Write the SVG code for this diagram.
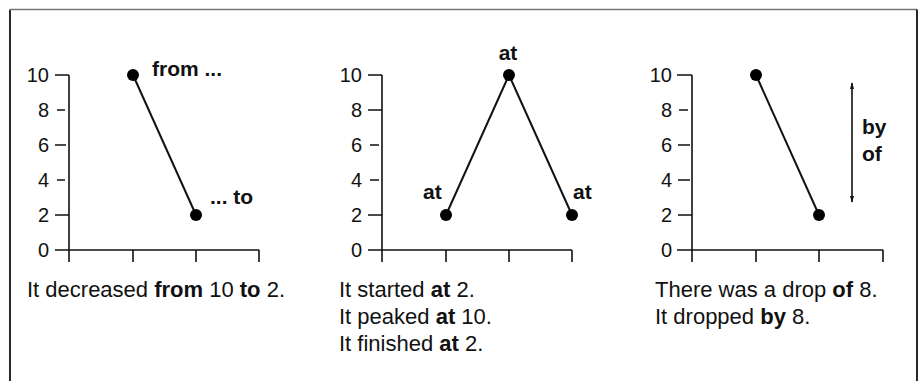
<svg xmlns="http://www.w3.org/2000/svg" width="919" height="381" viewBox="0 0 919 381">
<style>
text{font-family:"Liberation Sans",Arial,sans-serif;fill:#111}
.num{font-size:20px;text-anchor:end}
.lbl{font-size:21px;font-weight:bold}
.cap{font-size:22px}
.b{font-weight:bold}
.axis{stroke:#111;stroke-width:1.6;fill:none}
.tick{stroke:#111;stroke-width:1.3;fill:none}
.data{stroke:#111;stroke-width:2;fill:none}
.dot{fill:#000}
</style>
<defs>
<marker id="ah" viewBox="0 0 10 10" refX="9" refY="5" markerWidth="7" markerHeight="7" orient="auto-start-reverse" markerUnits="userSpaceOnUse">
<path d="M0,2 L10,5 L0,8 Z" fill="#111"/>
</marker>
</defs>
<rect width="919" height="381" fill="#fff"/>
<g id="frame">
<path d="M10,381 V9.5" stroke="#111" stroke-width="1.8" fill="none"/>
<path d="M10,9.5 H917" stroke="#777" stroke-width="1.5" fill="none"/>
<path d="M917,9.5 V381" stroke="#111" stroke-width="1.8" fill="none"/>
</g>

<g id="chart1" transform="translate(69,250)">
<g id="chart1-axes">
<path class="axis" d="M0,-175 V12 M-14,0 H190 M64,0 V12 M127,0 V12 M190,0 V12"/>
<path class="tick" d="M-14,-175 H0 M-12,-140 H-4 M-14,-105 H-3 M-12,-70 H-4 M-14,-35 H0"/>
<text class="num" x="-20" y="-168">10</text>
<text class="num" x="-20" y="-133">8</text>
<text class="num" x="-20" y="-98">6</text>
<text class="num" x="-20" y="-63">4</text>
<text class="num" x="-20" y="-28">2</text>
<text class="num" x="-20" y="7">0</text>
</g>
</g>
<g id="chart1-data">
<line class="data" x1="133" y1="75" x2="196" y2="215"/>
<circle class="dot" cx="133" cy="75" r="6"/>
<circle class="dot" cx="196" cy="215" r="6"/>
<text class="lbl" x="152" y="76">from ...</text>
<text class="lbl" x="210" y="204">... to</text>
</g>
<text id="caption1" class="cap" x="27" y="297">It decreased <tspan class="b">from</tspan> 10 <tspan class="b">to</tspan> 2.</text>

<g id="chart2" transform="translate(382,250)">
<g id="chart2-axes">
<path class="axis" d="M0,-175 V12 M-14,0 H190 M64,0 V12 M127,0 V12 M190,0 V12"/>
<path class="tick" d="M-14,-175 H0 M-14,-140 H0 M-12,-105 H-3 M-12,-70 H-3 M-14,-35 H0"/>
<text class="num" x="-20" y="-168">10</text>
<text class="num" x="-20" y="-133">8</text>
<text class="num" x="-20" y="-98">6</text>
<text class="num" x="-20" y="-63">4</text>
<text class="num" x="-20" y="-28">2</text>
<text class="num" x="-20" y="7">0</text>
</g>
</g>
<g id="chart2-data">
<polyline class="data" points="446,215 509,75 572,215"/>
<circle class="dot" cx="446" cy="215" r="6"/>
<circle class="dot" cx="509" cy="75" r="6"/>
<circle class="dot" cx="572" cy="215" r="6"/>
<text class="lbl" x="508" y="60" text-anchor="middle">at</text>
<text class="lbl" x="423" y="199">at</text>
<text class="lbl" x="573" y="199">at</text>
</g>
<text id="caption2" class="cap" x="339" y="297">It started <tspan class="b">at</tspan> 2.<tspan x="339" y="324">It peaked <tspan class="b">at</tspan> 10.</tspan><tspan x="339" y="351">It finished <tspan class="b">at</tspan> 2.</tspan></text>

<g id="chart3" transform="translate(692,250)">
<g id="chart3-axes">
<path class="axis" d="M0,-175 V12 M-15,0 H191 M64,0 V12 M127,0 V12 M191,0 V12"/>
<path class="tick" d="M-15,-175 H0 M-13,-140 H-4 M-14,-105 H-2 M-14,-70 H-2 M-14,-35 H0"/>
<text class="num" x="-20" y="-168">10</text>
<text class="num" x="-20" y="-133">8</text>
<text class="num" x="-20" y="-98">6</text>
<text class="num" x="-20" y="-63">4</text>
<text class="num" x="-20" y="-28">2</text>
<text class="num" x="-20" y="7">0</text>
</g>
</g>
<g id="chart3-data">
<line class="data" x1="756" y1="75" x2="819" y2="215"/>
<circle class="dot" cx="756" cy="75" r="6"/>
<circle class="dot" cx="819" cy="215" r="6"/>
</g>
<g id="connectors">
<line x1="852" y1="83" x2="852" y2="202" stroke="#111" stroke-width="1.6" marker-start="url(#ah)" marker-end="url(#ah)"/>
</g>
<g id="chart3-labels">
<text class="lbl" x="862" y="134">by</text>
<text class="lbl" x="862" y="161">of</text>
</g>
<text id="caption3" class="cap" x="655" y="297">There was a drop <tspan class="b">of</tspan> 8.<tspan x="655" y="324">It dropped <tspan class="b">by</tspan> 8.</tspan></text>
</svg>
